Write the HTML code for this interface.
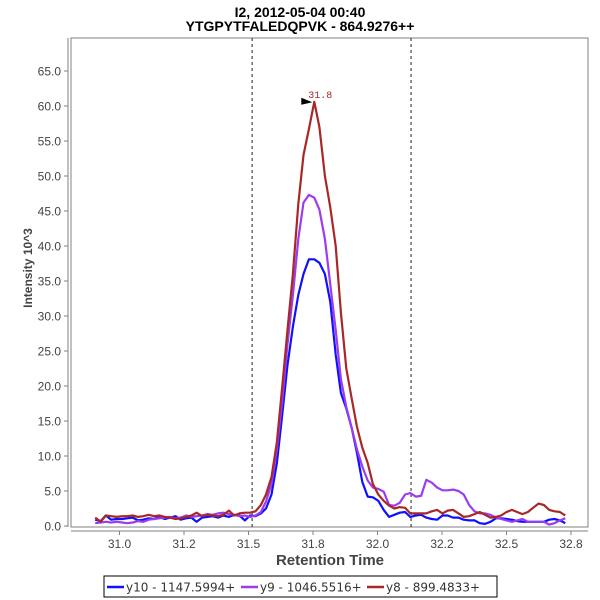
<!DOCTYPE html>
<html><head><meta charset="utf-8"><style>
body{margin:0;background:#fff;}
svg{display:block;font-family:"Liberation Sans","DejaVu Sans",sans-serif;}
</style></head><body>
<svg id="chart" width="600" height="600" viewBox="0 0 600 600">
<text x="300" y="17" text-anchor="middle" font-size="14" font-weight="bold" fill="#000">I2, 2012-05-04 00:40</text>
<text x="300" y="31" text-anchor="middle" font-size="14" font-weight="bold" fill="#000">YTGPYTFALEDQPVK - 864.9276++</text>
<rect x="71" y="38" width="517" height="489" fill="#fff" stroke="#808080" stroke-width="1"/>
<line x1="68" y1="38" x2="68" y2="527" stroke="#808080"/>
<line x1="71" y1="531" x2="588" y2="531" stroke="#808080"/>
<g id="yticks"></g><g id="xticks"></g><g id="marks"></g>
<text transform="translate(32,268) rotate(-90)" text-anchor="middle" font-size="12" font-weight="bold" fill="#444">Intensity 10^3</text>
<text x="330" y="565" text-anchor="middle" font-size="15" font-weight="bold" fill="#444">Retention Time</text>
<g font-family="DejaVu Sans, sans-serif">
<rect x="104" y="576" width="393" height="21" fill="#fff" stroke="#000" stroke-width="1"/>
<g><line x1="107" y1="587" x2="124" y2="587" stroke="#1010ff" stroke-width="2.5"/><text x="126" y="591.5" font-size="12" fill="#333">y10 - 1147.5994+</text></g>
<g><line x1="241" y1="587" x2="258" y2="587" stroke="#9b3cf0" stroke-width="2.5"/><text x="260" y="591.5" font-size="12" fill="#333">y9 - 1046.5516+</text></g>
<g><line x1="367" y1="587" x2="384" y2="587" stroke="#a82828" stroke-width="2.5"/><text x="386" y="591.5" font-size="12" fill="#333">y8 - 899.4833+</text></g>
</g>
</svg>
<script>
const times=[30.906,30.927,30.947,30.968,30.989,31.010,31.030,31.051,31.072,31.092,31.113,31.134,31.154,31.175,31.196,31.217,31.237,31.258,31.279,31.299,31.320,31.341,31.361,31.382,31.403,31.424,31.444,31.465,31.486,31.506,31.527,31.548,31.568,31.589,31.610,31.631,31.651,31.672,31.693,31.713,31.734,31.755,31.775,31.796,31.817,31.838,31.858,31.879,31.900,31.920,31.941,31.962,31.982,32.003,32.024,32.045,32.065,32.086,32.107,32.127,32.148,32.169,32.189,32.210,32.231,32.252,32.272,32.293,32.314,32.334,32.355,32.376,32.396,32.417,32.438,32.459,32.479,32.500,32.521,32.541,32.562,32.583,32.603,32.624,32.645,32.666,32.686,32.707,32.728];
const y10=[0.9,0.7,1.5,0.9,1.0,1.0,1.1,1.2,0.8,0.9,1.1,1.0,1.3,1.0,1.2,1.4,0.9,1.1,1.2,0.6,1.2,1.3,1.4,1.2,1.5,1.3,1.6,1.5,0.8,1.5,1.4,1.8,2.5,4.5,9,16,23,28.5,33,36,38.1,38.1,37.6,36,32,24.5,19,16.8,14,10.5,6.3,4.2,4.1,3.6,2.3,1.3,1.6,1.9,2.0,1.3,1.5,1.6,1.2,1.0,0.9,1.5,1.5,1.2,1.2,0.9,0.8,0.8,0.4,0.3,0.6,1.1,1.1,1.0,0.9,0.7,0.6,0.6,0.6,0.6,0.6,0.9,1.0,0.8,0.4];
const y9=[0.4,0.5,0.6,0.5,0.6,0.5,0.4,0.5,0.7,0.6,0.9,1.0,1.1,1.2,1.3,1.1,1.2,1.5,1.3,1.4,1.5,1.7,1.6,1.8,1.9,1.7,1.6,1.4,1.5,1.3,1.5,2.0,3.5,6,11,18,26,33,41,46.2,47.3,46.9,45.2,41,34.5,28,21,17,14,11,8.5,6.5,5.5,5.3,4.9,3.0,2.9,3.3,4.5,4.7,4.2,4.3,6.6,6.2,5.5,5.1,5.1,5.2,5.0,4.5,3.0,2.1,1.8,1.8,1.6,1.2,1.0,0.8,0.6,0.8,1.0,0.6,0.6,0.6,0.6,0.2,0.4,0.8,1.1];
const y8=[1.2,0.6,1.5,1.4,1.3,1.4,1.4,1.5,1.3,1.4,1.6,1.4,1.5,1.3,1.2,1.0,1.1,1.3,1.5,1.9,1.4,1.6,1.5,1.4,1.6,2.2,1.5,1.8,1.9,1.9,2.1,3.0,4.5,7,12,20,28,36,46,53,56.7,60.6,57,50,45.5,40,30.5,22.5,18.2,14.2,11.2,9,6.0,4.5,3.6,2.9,2.5,2.7,2.6,1.8,1.8,1.8,1.8,2.1,2.3,1.8,2.2,2.3,1.8,1.3,1.4,1.7,2.0,1.6,1.2,1.3,1.5,2.0,2.3,2.0,1.7,2.0,2.6,3.2,3.0,2.3,2.1,2.0,1.5];
const yTickValues=[0,5,10,15,20,25,30,35,40,45,50,55,60,65];
const xTickValues=[31.0,31.25,31.5,31.75,32.0,32.25,32.5,32.75];
const xTickLabels=["31.0","31.2","31.5","31.8","32.0","32.2","32.5","32.8"];
const boundaries=[31.514,32.13];
const ns="http://www.w3.org/2000/svg";
function xs(t){return 119.5+(t-31)*258;}
function ys(v){return 526-v*7;}
function mk(tag,attrs,parent){const e=document.createElementNS(ns,tag);for(const k in attrs)e.setAttribute(k,attrs[k]);parent.appendChild(e);return e;}
const yt=document.getElementById('yticks'),xt=document.getElementById('xticks'),mg=document.getElementById('marks');
yTickValues.forEach(v=>{
 const l=mk('line',{x1:64,x2:68,y1:ys(v),y2:ys(v),stroke:'#808080'},yt);
 
 
 const t=mk('text',{x:61,y:ys(v)+4.5,'text-anchor':'end','font-size':12,fill:'#444'},yt);
 t.textContent=v.toFixed(1);
 
 
});
xTickValues.forEach((v,i)=>{
 const l=mk('line',{x1:xs(v),x2:xs(v),y1:531,y2:535,stroke:'#808080'},xt);
 
 
 const t=mk('text',{x:xs(v),y:548,'text-anchor':'middle','font-size':12,fill:'#444'},xt);
 t.textContent=xTickLabels[i];
 
 
});
boundaries.forEach(b=>{
 const l=mk('line',{x1:xs(b),x2:xs(b),y1:38,y2:527,stroke:'#222','stroke-dasharray':'3,3','stroke-width':1},mg);
 
 
});
function series(vals,color,name){
 const d=vals.map((v,i)=>(i?'L':'M')+xs(times[i]).toFixed(1)+','+ys(v).toFixed(1)).join(' ');
 const p=mk('path',{d:d,fill:'none',stroke:color,'stroke-width':2.2,'stroke-linejoin':'round'},mg);
 
 
}
series(y10,'#1010ff','series-y10');
series(y9,'#9b3cf0','series-y9');
series(y8,'#a82828','series-y8');
let mi=0;y8.forEach((v,i)=>{if(v>y8[mi])mi=i;});
const px=xs(times[mi]),py=ys(y8[mi]);
const tri=mk('polygon',{points:(px-13)+','+(py-4)+' '+(px-2)+','+(py+0.5)+' '+(px-13)+','+(py+3),fill:'#000'},mg);


const lbl=mk('text',{x:px-6,y:py-4,'font-size':10,fill:'#a82828','font-family':'Liberation Mono, monospace'},mg);
lbl.textContent=times[mi].toFixed(1);


</script>
</body></html>
